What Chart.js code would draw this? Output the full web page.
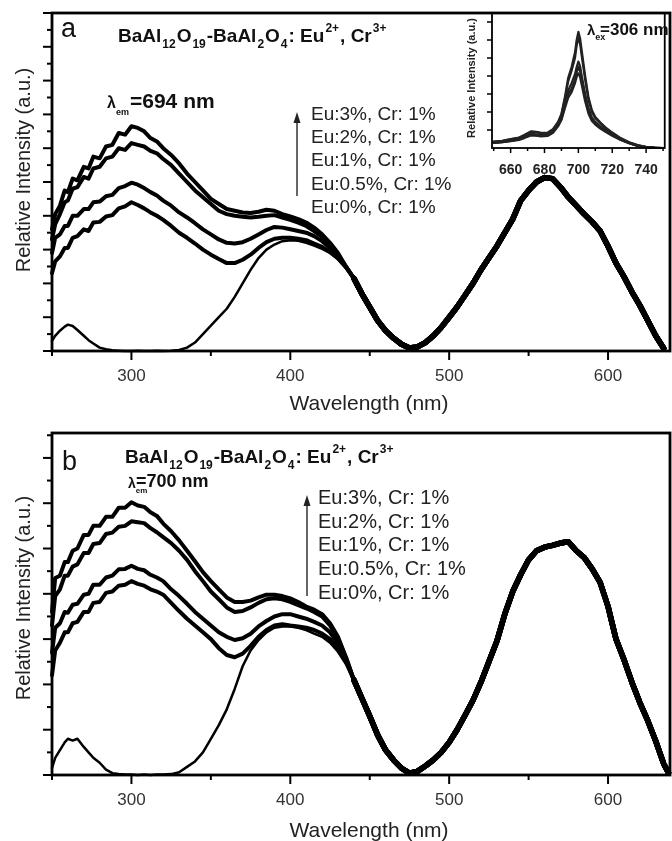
<!DOCTYPE html>
<html>
<head>
<meta charset="utf-8">
<script src="https://cdn.jsdelivr.net/npm/chart.js@4.4.1/dist/chart.umd.min.js"></script>
<style>
  body { margin: 0; background: #fff; }
  #wrap { position: relative; width: 672px; height: 841px; }
  canvas { position: absolute; }
</style>
</head>
<body>
<div id="wrap">
  <canvas id="panelA" width="672" height="420" style="left:0;top:0"></canvas>
  <canvas id="panelB" width="672" height="421" style="left:0;top:420px"></canvas>
  <canvas id="inset" width="232" height="190" style="left:440px;top:0"></canvas>
</div>
<script>
// wavelengths (nm)
const wlUv = [250, 252, 255, 258, 260, 263, 266, 270, 273, 276, 280, 284, 288, 292, 296, 300, 304, 308, 312, 316,
              320, 325, 330, 335, 340, 345, 350, 355, 360, 365, 370, 375, 380, 385, 390, 395, 400, 405, 410, 415,
              420, 425, 430, 435];
const wlTail = [440, 445, 450, 455, 460, 465, 470, 475, 480, 485, 490, 495, 500, 505, 510, 515, 520, 525, 530, 535,
                540, 545, 550, 555, 560, 565, 570, 575, 580, 585, 590, 595, 600, 605, 610, 615, 620, 625, 630, 635];
const wlTailB = wlTail.concat([638]);

// panel a : excitation, lambda em = 694 nm
const a_eu3  = [3.6, 4.05, 4.3, 4.75, 4.7, 5.1, 5.05, 5.45, 5.4, 5.75, 5.7, 6.05, 6.1, 6.45, 6.4, 6.65, 6.6, 6.5, 6.3, 6.2,
                6.0, 5.8, 5.55, 5.25, 5.0, 4.75, 4.5, 4.35, 4.2, 4.15, 4.1, 4.08, 4.12, 4.18, 4.15, 4.05, 3.98, 3.9, 3.8, 3.65,
                3.45, 3.2, 2.9, 2.5];
const a_eu2  = [3.3, 3.75, 4.05, 4.4, 4.45, 4.8, 4.85, 5.15, 5.1, 5.4, 5.45, 5.7, 5.75, 6.0, 5.95, 6.15, 6.1, 6.05, 5.92, 5.85,
                5.68, 5.5, 5.25, 5.0, 4.75, 4.55, 4.35, 4.15, 4.05, 4.0, 3.97, 3.95, 3.97, 4.0, 4.02, 3.95, 3.88, 3.8, 3.7, 3.55,
                3.38, 3.15, 2.85, 2.5];
const a_eu1  = [2.9, 3.35, 3.45, 3.7, 3.7, 4.0, 4.0, 4.2, 4.2, 4.4, 4.42, 4.58, 4.62, 4.82, 4.88, 4.98, 4.92, 4.82, 4.7, 4.6,
                4.45, 4.3, 4.1, 3.95, 3.78, 3.6, 3.45, 3.3, 3.2, 3.18, 3.22, 3.32, 3.45, 3.58, 3.67, 3.65, 3.6, 3.55, 3.5, 3.4,
                3.25, 3.05, 2.8, 2.5];
const a_eu05 = [2.3, 2.65, 2.8, 3.05, 3.05, 3.35, 3.4, 3.6, 3.55, 3.8, 3.82, 3.98, 4.02, 4.22, 4.28, 4.4, 4.32, 4.22, 4.1, 4.0,
                3.88, 3.7, 3.5, 3.35, 3.18, 3.0, 2.85, 2.72, 2.6, 2.6, 2.7, 2.85, 3.05, 3.22, 3.32, 3.35, 3.35, 3.32, 3.28, 3.18,
                3.08, 2.93, 2.74, 2.48];
const a_eu0  = [0.3, 0.45, 0.6, 0.72, 0.78, 0.74, 0.62, 0.45, 0.32, 0.22, 0.1, 0.05, 0.02, 0.01, 0.0, 0.0, 0.01, 0.0, 0.0, 0.01,
                0.0, 0.01, 0.03, 0.1, 0.25, 0.5, 0.75, 1.0, 1.25, 1.6, 2.0, 2.4, 2.75, 3.0, 3.15, 3.25, 3.28, 3.26, 3.2, 3.12,
                3.02, 2.9, 2.72, 2.45];
const a_tail = [2.15, 1.7, 1.3, 0.9, 0.6, 0.38, 0.2, 0.09, 0.12, 0.25, 0.45, 0.7, 1.0, 1.3, 1.65, 2.0, 2.4, 2.75, 3.1, 3.5,
                3.9, 4.45, 4.75, 5.0, 5.13, 5.1, 4.85, 4.55, 4.3, 4.05, 3.82, 3.55, 3.1, 2.6, 2.2, 1.75, 1.35, 0.9, 0.45, 0.08];

// panel b : excitation, lambda em = 700 nm
const b_eu3  = [3.6, 4.35, 4.4, 4.7, 4.7, 4.95, 5.0, 5.3, 5.3, 5.5, 5.5, 5.7, 5.7, 5.9, 5.9, 6.02, 5.95, 5.92, 5.8, 5.72,
                5.55, 5.38, 5.18, 4.95, 4.72, 4.48, 4.28, 4.1, 3.92, 3.82, 3.82, 3.85, 3.92, 3.98, 3.98, 3.95, 3.9, 3.82, 3.72, 3.65,
                3.55, 3.35, 3.05, 2.6];
const b_eu2  = [3.3, 3.95, 4.1, 4.4, 4.4, 4.6, 4.65, 4.9, 4.9, 5.1, 5.12, 5.32, 5.35, 5.48, 5.5, 5.6, 5.58, 5.56, 5.45, 5.36,
                5.25, 5.12, 4.95, 4.75, 4.5, 4.28, 4.05, 3.88, 3.7, 3.6, 3.62, 3.7, 3.8, 3.88, 3.9, 3.88, 3.82, 3.75, 3.68, 3.6,
                3.5, 3.3, 3.0, 2.6];
const b_eu1  = [2.7, 3.25, 3.35, 3.6, 3.58, 3.76, 3.78, 3.98, 4.0, 4.2, 4.2, 4.36, 4.4, 4.54, 4.55, 4.62, 4.55, 4.52, 4.42, 4.36,
                4.28, 4.1, 3.95, 3.78, 3.6, 3.45, 3.3, 3.15, 3.05, 2.98, 3.02, 3.12, 3.28, 3.4, 3.5, 3.55, 3.55, 3.5, 3.45, 3.38,
                3.3, 3.15, 2.9, 2.55];
const b_eu05 = [2.2, 2.75, 2.92, 3.15, 3.15, 3.35, 3.38, 3.6, 3.6, 3.8, 3.82, 4.02, 4.05, 4.18, 4.2, 4.28, 4.22, 4.18, 4.1, 4.05,
                3.98, 3.8, 3.62, 3.45, 3.3, 3.15, 3.0, 2.8, 2.65, 2.6, 2.68, 2.85, 3.05, 3.2, 3.3, 3.33, 3.3, 3.28, 3.25, 3.2,
                3.12, 3.0, 2.8, 2.5];
const b_eu0  = [0.15, 0.38, 0.55, 0.72, 0.8, 0.76, 0.8, 0.62, 0.5, 0.38, 0.27, 0.12, 0.04, 0.02, 0.01, 0.01, 0.0, 0.01, 0.0, 0.01,
                0.01, 0.02, 0.06, 0.18, 0.3, 0.5, 0.8, 1.1, 1.45, 1.9, 2.4, 2.75, 2.98, 3.15, 3.25, 3.28, 3.28, 3.25, 3.2, 3.12,
                3.05, 2.92, 2.72, 2.45];
const b_tail = [2.1, 1.7, 1.3, 0.88, 0.55, 0.33, 0.15, 0.04, 0.08, 0.2, 0.33, 0.5, 0.72, 1.0, 1.32, 1.65, 2.05, 2.5, 2.95, 3.55,
                4.05, 4.42, 4.75, 4.95, 5.03, 5.07, 5.12, 5.15, 4.95, 4.8, 4.55, 4.25, 3.72, 3.0, 2.55, 2.05, 1.6, 1.2, 0.75, 0.25,
                0.05];

// inset : emission, lambda ex = 306 nm
const wlInset = [650, 655, 660, 665, 668, 672, 675, 678, 682, 685, 688, 690, 692, 694, 696, 698, 699, 700, 701, 702,
                 704, 706, 708, 710, 713, 716, 720, 725, 730, 735, 740, 745, 750];
const in_eu3  = [0.35, 0.4, 0.5, 0.58, 0.72, 0.92, 0.9, 0.84, 0.86, 1.05, 1.45, 1.9, 2.8, 3.9, 4.5, 5.3, 6.0, 6.45, 6.1, 5.4,
                 4.0, 2.8, 2.1, 1.72, 1.42, 1.15, 0.86, 0.55, 0.32, 0.16, 0.06, 0.02, 0.0];
const in_eu2  = [0.34, 0.38, 0.48, 0.56, 0.7, 0.9, 0.88, 0.82, 0.84, 1.02, 1.4, 1.85, 2.7, 3.7, 4.3, 5.0, 5.7, 6.1, 5.8, 5.1,
                 3.8, 2.65, 2.0, 1.65, 1.38, 1.1, 0.82, 0.52, 0.3, 0.15, 0.05, 0.02, 0.0];
const in_eu1  = [0.3, 0.34, 0.42, 0.5, 0.6, 0.78, 0.76, 0.72, 0.74, 0.92, 1.3, 1.7, 2.5, 3.2, 3.6, 4.1, 4.5, 4.8, 4.55, 4.0,
                 3.0, 2.2, 1.7, 1.45, 1.2, 1.0, 0.75, 0.48, 0.28, 0.13, 0.05, 0.01, 0.0];
const in_eu05 = [0.29, 0.33, 0.4, 0.48, 0.58, 0.74, 0.72, 0.68, 0.7, 0.88, 1.25, 1.62, 2.35, 3.0, 3.3, 3.8, 4.2, 4.5, 4.28, 3.75,
                 2.8, 2.05, 1.6, 1.38, 1.14, 0.95, 0.72, 0.46, 0.27, 0.12, 0.04, 0.01, 0.0];
const in_eu0  = [0.28, 0.32, 0.38, 0.45, 0.55, 0.7, 0.68, 0.65, 0.67, 0.85, 1.2, 1.55, 2.2, 2.8, 3.1, 3.6, 3.95, 4.15, 3.95, 3.5,
                 2.6, 1.9, 1.5, 1.3, 1.08, 0.9, 0.68, 0.44, 0.26, 0.12, 0.04, 0.01, 0.0];

const legendRows = ['Eu:3%, Cr: 1%', 'Eu:2%, Cr: 1%', 'Eu:1%, Cr: 1%', 'Eu:0.5%, Cr: 1%', 'Eu:0%, Cr: 1%'];
const xLabels = [300, 400, 500, 600];
const xMinor = [250, 350, 450, 550];
const yMajorA = [0, 1, 2, 3, 4, 5, 6, 7, 8, 9, 10];
const yMinorA = [0.5, 1.5, 2.5, 3.5, 4.5, 5.5, 6.5, 7.5, 8.5, 9.5];
const yMajorB = [0, 1, 2, 3, 4, 5, 6, 7];
const yMinorB = [0.5, 1.5, 2.5, 3.5, 4.5, 5.5, 6.5, 7.5];
const insetXLabels = [660, 680, 700, 720, 740];
const insetXMinor = [650, 670, 690, 710, 730, 750];
const insetYTicks = [1, 2, 3, 4, 5, 6, 7];

const F = '"Liberation Sans", Arial, sans-serif';

function pts(xs, ys) {
    return xs.map((w, i) => ({ x: w, y: ys[i] }));
}

function curve(xs, ys, width, color, tailWidth) {
    const set = {
        data: pts(xs, ys),
        borderColor: color || '#000',
        borderWidth: width,
        pointRadius: 0,
        tension: 0,
        fill: false,
        clip: 6,
        borderJoinStyle: 'round',
        borderCapStyle: 'round'
    };
    if (tailWidth) {
        // the five curves lie on top of each other past 440 nm, drawn as one thick band
        set.segment = { borderWidth: c => (c.p0.parsed.x >= 437 ? tailWidth : undefined) };
    }
    return set;
}

// text with sub/superscripts: parts = [text, font, dy, gap]
function drawRich(ctx, item) {
    ctx.save();
    ctx.translate(item.x, item.y);
    if (item.rot) ctx.rotate(item.rot);
    ctx.fillStyle = item.color || '#111';
    ctx.textBaseline = item.base || 'alphabetic';
    let total = 0;
    item.parts.forEach(p => { ctx.font = p[1]; total += (p[3] || 0) + ctx.measureText(p[0]).width; });
    let cx = item.align === 'center' ? -total / 2 : 0;
    item.parts.forEach(p => {
        ctx.font = p[1];
        cx += p[3] || 0;
        ctx.fillText(p[0], cx, p[2] || 0);
        cx += ctx.measureText(p[0]).width;
    });
    ctx.restore();
}

// frame, outward ticks, arrow and labels
const decor = {
    id: 'decor',
    afterDraw(chart, args, o) {
        const { ctx, chartArea: a, scales: { x, y } } = chart;
        ctx.save();
        ctx.strokeStyle = '#000';
        ctx.lineWidth = o.tickWidth;
        const seg = (x1, y1, x2, y2) => { ctx.beginPath(); ctx.moveTo(x1, y1); ctx.lineTo(x2, y2); ctx.stroke(); };
        o.xMajor.forEach(v => { const p = x.getPixelForValue(v); seg(p, a.bottom, p, a.bottom + o.majorLen); });
        o.xMinor.forEach(v => { const p = x.getPixelForValue(v); seg(p, a.bottom, p, a.bottom + o.minorLen); });
        o.yMajor.forEach(v => { const p = y.getPixelForValue(v); seg(a.left, p, a.left - o.majorLen, p); });
        o.yMinor.forEach(v => { const p = y.getPixelForValue(v); seg(a.left, p, a.left - o.minorLen, p); });
        ctx.lineWidth = o.frameWidth;
        ctx.strokeRect(a.left, a.top, a.right - a.left, a.bottom - a.top);
        if (o.arrow) {
            const ar = o.arrow;
            ctx.strokeStyle = '#333';
            ctx.fillStyle = '#222';
            ctx.lineWidth = 1.5;
            seg(ar.x, ar.y1, ar.x, ar.y2 + 8);
            ctx.beginPath();
            ctx.moveTo(ar.x, ar.y2);
            ctx.lineTo(ar.x - 3.5, ar.y2 + 11);
            ctx.lineTo(ar.x + 3.5, ar.y2 + 11);
            ctx.closePath();
            ctx.fill();
        }
        (o.texts || []).forEach(t => drawRich(ctx, t));
        ctx.restore();
    }
};

function titleParts(size) {
    const B = 'bold ' + size + 'px ' + F;
    const S = 'bold 12px ' + F;
    return [['BaAl', B], ['12', S, 6, 1], ['O', B, 0, 1], ['19', S, 6, 1], ['-BaAl', B, 0, 1], ['2', S, 6, 1],
            ['O', B, 0, 1], ['4', S, 6, 1], [': Eu', B, 0, 1], ['2+', S, -10, 1], [', Cr', B, 0, 1], ['3+', S, -10, 1]];
}

function legendTexts(x, ys, size) {
    return legendRows.map((t, i) => ({ x: x, y: ys[i], base: 'middle', color: '#222', parts: [[t, size + 'px ' + F]] }));
}

function panelConfig(sets, yMax, xHeight, plot) {
    return {
        type: 'line',
        data: { datasets: sets },
        options: {
            responsive: false,
            animation: false,
            events: [],
            layout: { padding: { left: 52, right: 2, top: 13, bottom: 0 } },
            plugins: { legend: { display: false }, tooltip: { enabled: false }, decor: plot },
            scales: {
                x: {
                    type: 'linear', min: 250, max: 639,
                    afterBuildTicks: s => { s.ticks = xLabels.map(v => ({ value: v })); },
                    afterFit: s => { s.height = xHeight; },
                    grid: { display: false, drawTicks: false },
                    border: { display: false },
                    ticks: { font: { family: F, size: 17 }, color: '#333', padding: 15, maxRotation: 0, autoSkip: false }
                },
                y: { type: 'linear', min: 0, max: yMax, display: false }
            }
        },
        plugins: [decor]
    };
}

// panel a
new Chart(document.getElementById('panelA'), panelConfig([
    curve(wlUv.concat(wlTail), a_eu3.concat(a_tail), 4, '#000', 5.5),
    curve(wlUv.concat(wlTail), a_eu2.concat(a_tail), 4, '#000', 5.5),
    curve(wlUv.concat(wlTail), a_eu1.concat(a_tail), 4, '#000', 5.5),
    curve(wlUv.concat(wlTail), a_eu05.concat(a_tail), 4, '#000', 5.5),
    curve(wlUv.concat(wlTail), a_eu0.concat(a_tail), 2.5, '#000', 5.5)
], 10, 69, {
    tickWidth: 2, frameWidth: 2.8, majorLen: 9, minorLen: 5,
    xMajor: xLabels, xMinor: xMinor, yMajor: yMajorA, yMinor: yMinorA,
    arrow: { x: 297, y1: 196, y2: 112 },
    texts: [
        { x: 61, y: 37, parts: [['a', '27px ' + F]] },
        { x: 118, y: 42, parts: titleParts(19) },
        { x: 107, y: 108, parts: [['λ', 'bold 16px ' + F], ['em', 'bold 9px ' + F, 7]] },
        { x: 130, y: 108, parts: [['=694 nm', 'bold 21px ' + F]] },
        { x: 369, y: 404, align: 'center', base: 'middle', color: '#222', parts: [['Wavelength (nm)', '21px ' + F]] },
        { x: 24, y: 170, rot: -Math.PI / 2, align: 'center', base: 'middle', color: '#222',
          parts: [['Relative Intensity (a.u.)', '20px ' + F]] }
    ].concat(legendTexts(311, [115, 138, 161, 185, 208], 19))
}));

// panel b
new Chart(document.getElementById('panelB'), panelConfig([
    curve(wlUv.concat(wlTailB), b_eu3.concat(b_tail), 4, '#000', 5.5),
    curve(wlUv.concat(wlTailB), b_eu2.concat(b_tail), 4, '#000', 5.5),
    curve(wlUv.concat(wlTailB), b_eu1.concat(b_tail), 4, '#000', 5.5),
    curve(wlUv.concat(wlTailB), b_eu05.concat(b_tail), 4, '#000', 5.5),
    curve(wlUv.concat(wlTailB), b_eu0.concat(b_tail), 2.5, '#000', 5.5)
], 7.55, 66, {
    tickWidth: 2, frameWidth: 2.8, majorLen: 9, minorLen: 5,
    xMajor: xLabels, xMinor: xMinor, yMajor: yMajorB, yMinor: yMinorB,
    arrow: { x: 307, y1: 176, y2: 75 },
    texts: [
        { x: 62, y: 50, parts: [['b', '27px ' + F]] },
        { x: 125, y: 43, parts: titleParts(19) },
        { x: 128, y: 68, parts: [['λ', 'bold 14px ' + F], ['em', 'bold 8px ' + F, 5]] },
        { x: 136, y: 67, parts: [['=700 nm', 'bold 18px ' + F]] },
        { x: 369, y: 411, align: 'center', base: 'middle', color: '#222', parts: [['Wavelength (nm)', '21px ' + F]] },
        { x: 24, y: 178, rot: -Math.PI / 2, align: 'center', base: 'middle', color: '#222',
          parts: [['Relative Intensity (a.u.)', '20px ' + F]] }
    ].concat(legendTexts(318, [78, 102, 125, 149, 173], 20))
}));

// inset of panel a
new Chart(document.getElementById('inset'), {
    type: 'line',
    data: {
        datasets: [
            curve(wlInset, in_eu3, 2.2, '#222'),
            curve(wlInset, in_eu2, 2.2, '#222'),
            curve(wlInset, in_eu1, 2.2, '#222'),
            curve(wlInset, in_eu05, 2.2, '#222'),
            curve(wlInset, in_eu0, 2.2, '#222')
        ]
    },
    options: {
        responsive: false,
        animation: false,
        events: [],
        layout: { padding: { left: 52, right: 2, top: 13, bottom: 0 } },
        plugins: {
            legend: { display: false }, tooltip: { enabled: false },
            decor: {
                tickWidth: 1.5, frameWidth: 1.8, majorLen: 5, minorLen: 3,
                xMajor: insetXLabels, xMinor: insetXMinor, yMajor: insetYTicks, yMinor: [],
                texts: [
                    { x: 147, y: 35, parts: [['λ', 'bold 15px ' + F], ['ex', 'bold 9px ' + F, 5]] },
                    { x: 160, y: 35, parts: [['=306 nm', 'bold 17px ' + F]] },
                    { x: 32, y: 78, rot: -Math.PI / 2, align: 'center', base: 'middle', color: '#222',
                      parts: [['Relative Intensity (a.u.)', 'bold 11px ' + F]] }
                ]
            }
        },
        scales: {
            x: {
                type: 'linear', min: 649, max: 751,
                afterBuildTicks: s => { s.ticks = insetXLabels.map(v => ({ value: v })); },
                afterFit: s => { s.height = 42; },
                grid: { display: false, drawTicks: false },
                border: { display: false },
                ticks: { font: { family: F, size: 14, weight: 'bold' }, color: '#222', padding: 14, maxRotation: 0, autoSkip: false }
            },
            y: { type: 'linear', min: 0, max: 7.5, display: false }
        }
    },
    plugins: [decor]
});
</script>
</body>
</html>
